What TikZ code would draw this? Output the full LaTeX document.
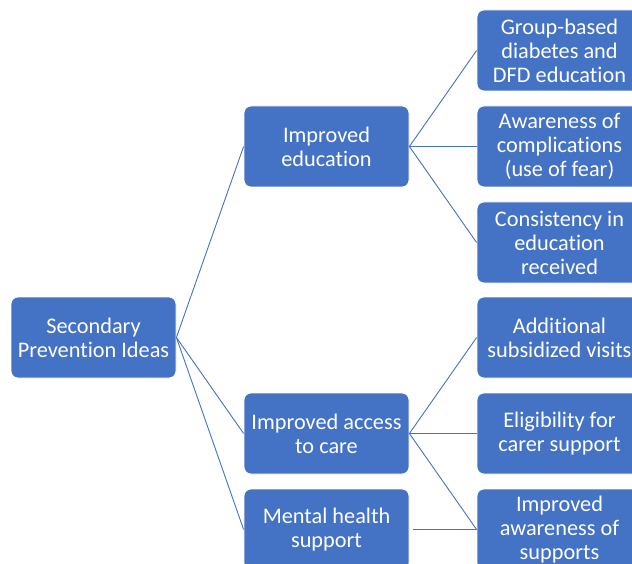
\documentclass[tikz,border=0pt]{standalone}
\usepackage{fontspec}
\setmainfont{Carlito}[Ligatures=NoCommon]
\definecolor{obox}{HTML}{4472C4}
\definecolor{oline}{HTML}{4472C4}
\begin{document}
\begin{tikzpicture}[x=1pt,y=-1pt,
  box/.style={fill=obox, draw=white, line width=0.8pt, rounded corners=7pt,
    minimum width=165pt, minimum height=81pt, text=white, align=center,
    inner sep=2pt, font=\fontsize{22.3}{24}\selectfont},
  link/.style={draw=oline, line width=0.9pt}]
\useasboundingbox (0,0) rectangle (632,564);
\clip (0,0) rectangle (632,564);
\node[box] (root) at (93.5,337.5) {Secondary\\Prevention Ideas};
\node[box] (edu) at (326.5,146.5) {Improved\\education};
\node[box] (acc) at (326.5,433.5) {Improved access\\to care};
\node[box] (men) at (326.5,529.5) {Mental health\\support};
\node[box] (l1) at (559.5,50.5) {Group-based\\diabetes and\\DFD education};
\node[box] (l2) at (559.5,146.5) {Awareness of\\complications\\(use of fear)};
\node[box] (l3) at (559.5,242.5) {Consistency in\\education\\received};
\node[box] (l4) at (559.5,337.5) {Additional\\subsidized visits};
\node[box] (l5) at (559.5,433.5) {Eligibility for\\carer support};
\node[box] (l6) at (559.5,529.5) {Improved\\awareness of\\supports};
\draw[link] (root.east) -- (edu.west);
\draw[link] (root.east) -- (acc.west);
\draw[link] (root.east) -- (men.west);
\draw[link] (edu.east) -- (l1.west);
\draw[link] (edu.east) -- (l2.west);
\draw[link] (edu.east) -- (l3.west);
\draw[link] (acc.east) -- (l4.west);
\draw[link] (acc.east) -- (l5.west);
\draw[link] (acc.east) -- (l6.west);
\draw[link, shorten <=4pt] (men.east) -- (l6.west);
\end{tikzpicture}
\end{document}
